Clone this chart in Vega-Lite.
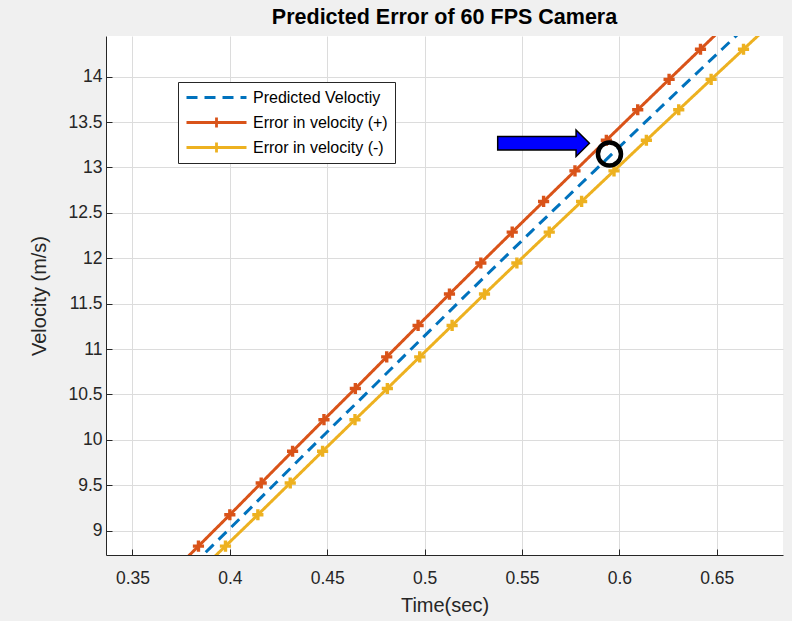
{
  "$schema": "https://vega.github.io/schema/vega-lite/v6.json",
  "width": 677,
  "height": 519,
  "autosize": "none",
  "padding": {"left": 106, "top": 36, "right": 9, "bottom": 66},
  "background": "#f0f0f0",
  "config": {
    "view": {"fill": "white", "stroke": null},
    "font": "Liberation Sans"
  },
  "title": {
    "text": "Predicted Error of 60 FPS Camera",
    "fontSize": 21.5,
    "fontWeight": "bold",
    "font": "Liberation Sans",
    "color": "#000000",
    "offset": 8
  },
  "datasets": {
    "lines": [
      {"series": "Error in velocity (+)", "t": 0.36776, "v": 8.484},
      {"series": "Error in velocity (+)", "t": 0.38387, "v": 8.83},
      {"series": "Error in velocity (+)", "t": 0.39998, "v": 9.175},
      {"series": "Error in velocity (+)", "t": 0.41609, "v": 9.525},
      {"series": "Error in velocity (+)", "t": 0.4322, "v": 9.875},
      {"series": "Error in velocity (+)", "t": 0.44831, "v": 10.222},
      {"series": "Error in velocity (+)", "t": 0.46442, "v": 10.566},
      {"series": "Error in velocity (+)", "t": 0.48053, "v": 10.914},
      {"series": "Error in velocity (+)", "t": 0.49664, "v": 11.26},
      {"series": "Error in velocity (+)", "t": 0.51275, "v": 11.606},
      {"series": "Error in velocity (+)", "t": 0.52886, "v": 11.948},
      {"series": "Error in velocity (+)", "t": 0.54497, "v": 12.288},
      {"series": "Error in velocity (+)", "t": 0.56108, "v": 12.626},
      {"series": "Error in velocity (+)", "t": 0.57719, "v": 12.963},
      {"series": "Error in velocity (+)", "t": 0.5933, "v": 13.3},
      {"series": "Error in velocity (+)", "t": 0.60941, "v": 13.636},
      {"series": "Error in velocity (+)", "t": 0.62552, "v": 13.97},
      {"series": "Error in velocity (+)", "t": 0.64163, "v": 14.302},
      {"series": "Error in velocity (+)", "t": 0.65774, "v": 14.635},
      {"series": "Error in velocity (-)", "t": 0.38112, "v": 8.484},
      {"series": "Error in velocity (-)", "t": 0.39774, "v": 8.83},
      {"series": "Error in velocity (-)", "t": 0.41437, "v": 9.175},
      {"series": "Error in velocity (-)", "t": 0.43099, "v": 9.525},
      {"series": "Error in velocity (-)", "t": 0.44761, "v": 9.875},
      {"series": "Error in velocity (-)", "t": 0.46424, "v": 10.222},
      {"series": "Error in velocity (-)", "t": 0.48086, "v": 10.566},
      {"series": "Error in velocity (-)", "t": 0.49748, "v": 10.914},
      {"series": "Error in velocity (-)", "t": 0.51411, "v": 11.26},
      {"series": "Error in velocity (-)", "t": 0.53073, "v": 11.606},
      {"series": "Error in velocity (-)", "t": 0.54736, "v": 11.948},
      {"series": "Error in velocity (-)", "t": 0.56398, "v": 12.288},
      {"series": "Error in velocity (-)", "t": 0.5806, "v": 12.626},
      {"series": "Error in velocity (-)", "t": 0.59723, "v": 12.963},
      {"series": "Error in velocity (-)", "t": 0.61385, "v": 13.3},
      {"series": "Error in velocity (-)", "t": 0.63047, "v": 13.636},
      {"series": "Error in velocity (-)", "t": 0.6471, "v": 13.97},
      {"series": "Error in velocity (-)", "t": 0.66372, "v": 14.302},
      {"series": "Error in velocity (-)", "t": 0.68035, "v": 14.635},
      {"series": "Predicted Veloctiy", "t": 0.37444, "v": 8.484},
      {"series": "Predicted Veloctiy", "t": 0.39081, "v": 8.83},
      {"series": "Predicted Veloctiy", "t": 0.40717, "v": 9.175},
      {"series": "Predicted Veloctiy", "t": 0.42354, "v": 9.525},
      {"series": "Predicted Veloctiy", "t": 0.43991, "v": 9.875},
      {"series": "Predicted Veloctiy", "t": 0.45627, "v": 10.222},
      {"series": "Predicted Veloctiy", "t": 0.47264, "v": 10.566},
      {"series": "Predicted Veloctiy", "t": 0.48901, "v": 10.914},
      {"series": "Predicted Veloctiy", "t": 0.50537, "v": 11.26},
      {"series": "Predicted Veloctiy", "t": 0.52174, "v": 11.606},
      {"series": "Predicted Veloctiy", "t": 0.53811, "v": 11.948},
      {"series": "Predicted Veloctiy", "t": 0.55447, "v": 12.288},
      {"series": "Predicted Veloctiy", "t": 0.57084, "v": 12.626},
      {"series": "Predicted Veloctiy", "t": 0.58721, "v": 12.963},
      {"series": "Predicted Veloctiy", "t": 0.60357, "v": 13.3},
      {"series": "Predicted Veloctiy", "t": 0.61994, "v": 13.636},
      {"series": "Predicted Veloctiy", "t": 0.63631, "v": 13.97},
      {"series": "Predicted Veloctiy", "t": 0.65268, "v": 14.302},
      {"series": "Predicted Veloctiy", "t": 0.66904, "v": 14.635}
    ],
    "arrow": [{"t": 0.56106, "v": 13.2665}],
    "circle": [{"t": 0.5949, "v": 13.148}]
  },
  "encoding": {
    "x": {
      "field": "t",
      "type": "quantitative",
      "scale": {"domain": [0.3364, 0.684], "nice": false, "zero": false},
      "axis": {
        "title": "Time(sec)",
        "values": [0.35, 0.4, 0.45, 0.5, 0.55, 0.6, 0.65],
        "format": "~g",
        "grid": true,
        "gridColor": "#dcdcdc",
        "domainColor": "#262626",
        "tickColor": "#262626",
        "tickSize": -6,
        "labelFontSize": 17.5,
        "labelColor": "#262626",
        "labelPadding": 20,
        "titleFontSize": 20,
        "titleFontWeight": "normal",
        "titleColor": "#262626",
        "titlePadding": 9
      }
    },
    "y": {
      "field": "v",
      "type": "quantitative",
      "scale": {"domain": [8.732, 14.448], "nice": false, "zero": false},
      "axis": {
        "title": "Velocity (m/s)",
        "values": [9, 9.5, 10, 10.5, 11, 11.5, 12, 12.5, 13, 13.5, 14],
        "format": "~g",
        "grid": true,
        "gridColor": "#dcdcdc",
        "domainColor": "#262626",
        "tickColor": "#262626",
        "tickSize": -6,
        "labelFontSize": 17.5,
        "labelColor": "#262626",
        "labelPadding": 10,
        "titleFontSize": 20,
        "titleFontWeight": "normal",
        "titleColor": "#262626",
        "titlePadding": 18
      }
    }
  },
  "layer": [
    {
      "data": {"name": "lines"},
      "mark": {"type": "line", "strokeWidth": 3, "clip": true},
      "encoding": {
        "color": {
          "field": "series",
          "type": "nominal",
          "scale": {
            "domain": ["Predicted Veloctiy", "Error in velocity (+)", "Error in velocity (-)"],
            "range": ["#0072BD", "#D95319", "#EDB120"]
          },
          "legend": {
            "orient": "none",
            "legendX": 72,
            "legendY": 46,
            "title": null,
            "direction": "vertical",
            "fillColor": "white",
            "strokeColor": "#262626",
            "padding": 7,
            "symbolSize": 3600,
            "clipHeight": 17,
            "rowPadding": 8,
            "labelOffset": 5,
            "labelFontSize": 16,
            "labelColor": "#000000",
            "labelFont": "Liberation Sans",
            "symbolStrokeWidth": 2.8,
            "symbolType": "M-1,0H1M0,-0.17V0.17",
            "encode": {
              "symbols": {
                "update": {
                  "shape": {"signal": "datum.value === 'Predicted Veloctiy' ? 'M-1,0H1' : 'M-1,0H1M0,-0.17V0.17'"},
                  "strokeDash": {"signal": "datum.value === 'Predicted Veloctiy' ? [11,7] : [1,0]"}
                }
              }
            }
          }
        },
        "strokeDash": {
          "field": "series",
          "type": "nominal",
          "scale": {
            "domain": ["Predicted Veloctiy", "Error in velocity (+)", "Error in velocity (-)"],
            "range": [[11, 7], [1, 0], [1, 0]]
          },
          "legend": null
        }
      }
    },
    {
      "data": {"name": "lines"},
      "transform": [{"filter": "datum.series !== 'Predicted Veloctiy'"}],
      "mark": {"type": "point", "shape": "M-1,0H1M0,-1V1", "filled": false, "strokeWidth": 3.4, "size": 125, "opacity": 1, "clip": true},
      "encoding": {
        "color": {"field": "series", "type": "nominal", "legend": null}
      }
    },
    {
      "data": {"name": "arrow"},
      "mark": {"type": "point", "shape": "M-1,-0.146L0.709,-0.146L0.709,-0.288L1,0L0.709,0.288L0.709,0.146L-1,0.146Z", "size": 8409, "filled": true, "fill": "#0000FF", "stroke": "#000000", "strokeWidth": 1.5, "opacity": 1}
    },
    {
      "data": {"name": "circle"},
      "mark": {"type": "point", "shape": "circle", "size": 531, "filled": false, "stroke": "#000000", "strokeWidth": 4.5, "opacity": 1}
    }
  ]
}
